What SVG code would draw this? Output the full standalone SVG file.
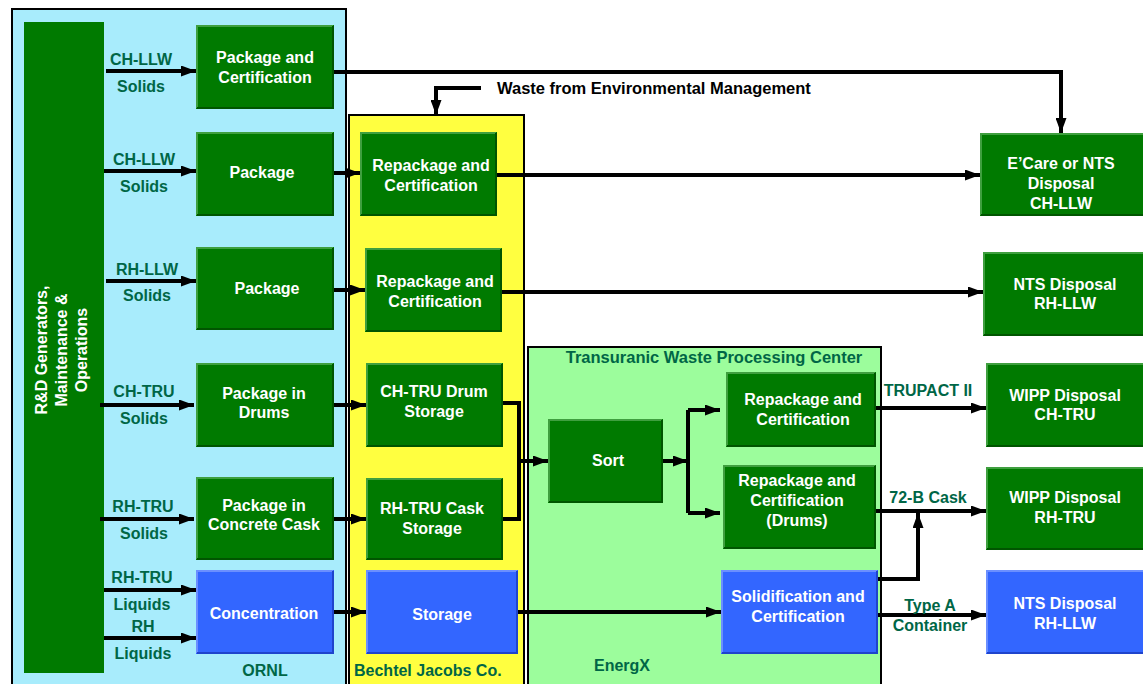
<svg xmlns="http://www.w3.org/2000/svg" width="1143" height="684" viewBox="0 0 1143 684">
<defs>
<marker id="ah" viewBox="0 0 15 11" refX="15" refY="5.5" markerWidth="15" markerHeight="11" markerUnits="userSpaceOnUse" orient="auto"><path d="M0,0 L15,5.5 L0,11 z" fill="#000"/></marker>
<style>
text{font-family:"Liberation Sans",Arial,sans-serif;font-weight:bold;font-size:16px}
.w{fill:#fff;text-anchor:middle}
.lb{fill:#006646;text-anchor:middle}
.t{font-size:16.5px}
.gb{fill:#007a00}
.bb{fill:#3366ff}
.gl{fill:none;stroke:#3f9f3f;stroke-width:2}
.gd{fill:none;stroke:#005500;stroke-width:2}
.bl{fill:none;stroke:#6b8fff;stroke-width:2}
.bd{fill:none;stroke:#1f44cc;stroke-width:2}
.c{fill:none;stroke:#000;stroke-width:4}
.a{marker-end:url(#ah)}
</style>
</defs>
<rect width="1143" height="684" fill="#fff"/>
<!-- panels -->
<g id="ornl"><rect x="12" y="9" width="334" height="680" fill="#a8ecfc" stroke="#000" stroke-width="2"/><text class="lb" x="265" y="676">ORNL</text></g>
<g id="bechtel"><rect x="349" y="115" width="175" height="575" fill="#ffff40" stroke="#000" stroke-width="2"/><text x="354" y="676" fill="#006646">Bechtel Jacobs Co.</text></g>
<g id="twpc"><rect x="528" y="347" width="353" height="343" fill="#9cfd9c" stroke="#000" stroke-width="2"/><text class="lb t" x="714" y="363">Transuranic Waste Processing Center</text><text class="lb" x="622" y="671">EnergX</text></g>

<g id="rnd"><rect x="24" y="22" width="80" height="651" fill="#007a00"/>
<g transform="translate(62,350) rotate(-90)"><text class="w" x="0" y="-15">R&amp;D Generators,</text><text class="w" x="0" y="5">Maintenance &amp;</text><text class="w" x="0" y="25">Operations</text></g></g>

<!-- ORNL boxes -->
<g id="pc1"><rect class="gb" x="196" y="25" width="138" height="84"/><path class="gl" d="M197,108 V26 H333"/><path class="gd" d="M197,108 H333 V26"/><text class="w" x="265" y="63">Package and</text><text class="w" x="265" y="83">Certification</text></g>
<g id="pk1"><rect class="gb" x="196" y="132" width="138" height="84"/><path class="gl" d="M197,215 V133 H333"/><path class="gd" d="M197,215 H333 V133"/><text class="w" x="262" y="178">Package</text></g>
<g id="pk2"><rect class="gb" x="196" y="247" width="138" height="83"/><path class="gl" d="M197,329 V248 H333"/><path class="gd" d="M197,329 H333 V248"/><text class="w" x="267" y="294">Package</text></g>
<g id="pkd"><rect class="gb" x="196" y="363" width="138" height="84"/><path class="gl" d="M197,446 V364 H333"/><path class="gd" d="M197,446 H333 V364"/><text class="w" x="264" y="399">Package in</text><text class="w" x="264" y="418">Drums</text></g>
<g id="pkc"><rect class="gb" x="196" y="477" width="138" height="83"/><path class="gl" d="M197,559 V478 H333"/><path class="gd" d="M197,559 H333 V478"/><text class="w" x="264" y="511">Package in</text><text class="w" x="264" y="530">Concrete Cask</text></g>
<g id="conc"><rect class="bb" x="196" y="570" width="138" height="84"/><path class="bl" d="M197,653 V571 H333"/><path class="bd" d="M197,653 H333 V571"/><text class="w" x="264" y="619">Concentration</text></g>

<!-- Bechtel boxes -->
<g id="rc1"><rect class="gb" x="360" y="132" width="137" height="84"/><path class="gl" d="M361,215 V133 H496"/><path class="gd" d="M361,215 H496 V133"/><text class="w" x="431" y="171">Repackage and</text><text class="w" x="431" y="191">Certification</text></g>
<g id="rc2"><rect class="gb" x="365" y="248" width="137" height="84"/><path class="gl" d="M366,331 V249 H501"/><path class="gd" d="M366,331 H501 V249"/><text class="w" x="435" y="287">Repackage and</text><text class="w" x="435" y="307">Certification</text></g>
<g id="chd"><rect class="gb" x="366" y="363" width="137" height="84"/><path class="gl" d="M367,446 V364 H502"/><path class="gd" d="M367,446 H502 V364"/><text class="w" x="434" y="397">CH-TRU Drum</text><text class="w" x="434" y="417">Storage</text></g>
<g id="rhc"><rect class="gb" x="366" y="478" width="137" height="82"/><path class="gl" d="M367,559 V479 H502"/><path class="gd" d="M367,559 H502 V479"/><text class="w" x="432" y="514">RH-TRU Cask</text><text class="w" x="432" y="534">Storage</text></g>
<g id="stor"><rect class="bb" x="366" y="570" width="152" height="84"/><path class="bl" d="M367,653 V571 H517"/><path class="bd" d="M367,653 H517 V571"/><text class="w" x="442" y="620">Storage</text></g>

<!-- TWPC boxes -->
<g id="sort"><rect class="gb" x="548" y="419" width="115" height="84"/><path class="gl" d="M549,502 V420 H662"/><path class="gd" d="M549,502 H662 V420"/><text class="w" x="608" y="466">Sort</text></g>
<g id="rc3"><rect class="gb" x="726" y="372" width="150" height="75"/><path class="gl" d="M727,446 V373 H875"/><path class="gd" d="M727,446 H875 V373"/><text class="w" x="803" y="405">Repackage and</text><text class="w" x="803" y="425">Certification</text></g>
<g id="rcd"><rect class="gb" x="723" y="465" width="153" height="84"/><path class="gl" d="M724,548 V466 H875"/><path class="gd" d="M724,548 H875 V466"/><text class="w" x="797" y="486">Repackage and</text><text class="w" x="797" y="506">Certification</text><text class="w" x="797" y="526">(Drums)</text></g>
<g id="solid"><rect class="bb" x="721" y="570" width="157" height="84"/><path class="bl" d="M722,653 V571 H877"/><path class="bd" d="M722,653 H877 V571"/><text class="w" x="798" y="602">Solidification and</text><text class="w" x="798" y="622">Certification</text></g>

<!-- Destination boxes -->
<g id="ecare"><rect class="gb" x="980" y="133" width="165" height="83"/><path class="gl" d="M981,215 V134 H1145"/><path class="gd" d="M981,215 H1145"/><text class="w" x="1061" y="169">E’Care or NTS</text><text class="w" x="1061" y="189">Disposal</text><text class="w" x="1061" y="209">CH-LLW</text></g>
<g id="ntsg"><rect class="gb" x="983" y="252" width="162" height="84"/><path class="gl" d="M984,335 V253 H1145"/><path class="gd" d="M984,335 H1145"/><text class="w" x="1065" y="290">NTS Disposal</text><text class="w" x="1065" y="309">RH-LLW</text></g>
<g id="wch"><rect class="gb" x="986" y="363" width="159" height="84"/><path class="gl" d="M987,446 V364 H1145"/><path class="gd" d="M987,446 H1145"/><text class="w" x="1065" y="401">WIPP Disposal</text><text class="w" x="1065" y="420">CH-TRU</text></g>
<g id="wrh"><rect class="gb" x="986" y="467" width="159" height="83"/><path class="gl" d="M987,549 V468 H1145"/><path class="gd" d="M987,549 H1145"/><text class="w" x="1065" y="503">WIPP Disposal</text><text class="w" x="1065" y="523">RH-TRU</text></g>
<g id="ntsb"><rect class="bb" x="986" y="570" width="159" height="84"/><path class="bl" d="M987,653 V571 H1145"/><path class="bd" d="M987,653 H1145"/><text class="w" x="1065" y="609">NTS Disposal</text><text class="w" x="1065" y="629">RH-LLW</text></g>

<g id="connectors">
<path class="c a" d="M106,71 H196"/>
<path class="c a" d="M104,171 H196"/>
<path class="c a" d="M106,281 H196"/>
<path class="c a" d="M100,405 H194"/>
<path class="c a" d="M100,519 H194"/>
<path class="c a" d="M104,590 H196"/>
<path class="c a" d="M104,638 H196"/>
<path class="c a" d="M334,173 H360"/>
<path class="c a" d="M334,290 H365"/>
<path class="c a" d="M334,405 H366"/>
<path class="c a" d="M334,519 H366"/>
<path class="c a" d="M334,612 H366"/>
<path class="c a" d="M334,72 H1061 V133"/>
<path class="c a" d="M481,88 H436 V115"/>
<path class="c a" d="M497,175 H980"/>
<path class="c a" d="M502,292 H983"/>
<path class="c" d="M503,403 H519 V519 H503"/>
<path class="c a" d="M519,461 H548"/>
<path class="c a" d="M663,461 H688"/>
<path class="c" d="M688,410 V513"/>
<path class="c a" d="M688,410 H720"/>
<path class="c a" d="M688,513 H720"/>
<path class="c a" d="M518,612 H721"/>
<path class="c a" d="M876,408 H986"/>
<path class="c a" d="M876,511 H986"/>
<path class="c a" d="M878,579 H918 V513"/>
<path class="c a" d="M878,615 H986"/>
</g>

<g id="labels">
<text class="lb" x="141" y="65">CH-LLW</text><text class="lb" x="141" y="92">Solids</text>
<text class="lb" x="144" y="165">CH-LLW</text><text class="lb" x="144" y="192">Solids</text>
<text class="lb" x="147" y="275">RH-LLW</text><text class="lb" x="147" y="301">Solids</text>
<text class="lb" x="144" y="397">CH-TRU</text><text class="lb" x="144" y="424">Solids</text>
<text class="lb" x="143" y="512">RH-TRU</text><text class="lb" x="144" y="539">Solids</text>
<text class="lb" x="142" y="583">RH-TRU</text><text class="lb" x="142" y="610">Liquids</text>
<text class="lb" x="143" y="632">RH</text><text class="lb" x="143" y="659">Liquids</text>
<text class="t" x="497" y="94" fill="#000">Waste from Environmental Management</text>
<text class="lb" x="928" y="396">TRUPACT II</text>
<text class="lb" x="928" y="503">72-B Cask</text>
<text class="lb" x="930" y="611">Type A</text>
<text class="lb" x="930" y="631">Container</text>
</g>
</svg>
